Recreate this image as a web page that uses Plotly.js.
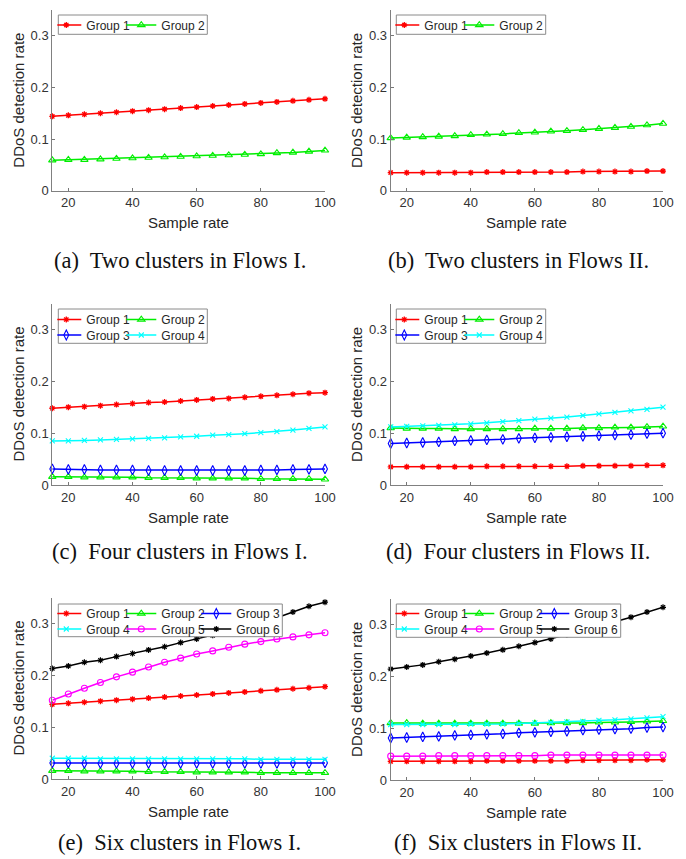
<!DOCTYPE html>
<html>
<head>
<meta charset="utf-8">
<script src="https://cdn.plot.ly/plotly-3.0.1.min.js"></script>
<style>html,body{margin:0;padding:0;background:#fff;}#chart{width:686px;height:859px;}</style>
</head>
<body>
<div id="chart"></div>
<script>
// ---------- data ----------
const sampleRate = [15, 20, 25, 30, 35, 40, 45, 50, 55, 60, 65, 70, 75, 80, 85, 90, 95, 100];
const groupNames = ['Group 1', 'Group 2', 'Group 3', 'Group 4', 'Group 5', 'Group 6'];
const xTicks = [20, 40, 60, 80, 100];
const yTicks = [0, 0.1, 0.2, 0.3];
const yTickText = ['0', '0.1', '0.2', '0.3'];
const captions = ['(a)\u00a0 Two clusters in Flows I.', '(b)\u00a0 Two clusters in Flows II.',
                  '(c)\u00a0 Four clusters in Flows I.', '(d)\u00a0 Four clusters in Flows II.',
                  '(e)\u00a0 Six clusters in Flows I.', '(f)\u00a0 Six clusters in Flows II.'];

// (a) Two clusters, Flows I
const aGroup1 = [0.144, 0.146, 0.148, 0.150, 0.152, 0.154, 0.156, 0.158, 0.160, 0.162, 0.164, 0.166, 0.168, 0.170, 0.172, 0.174, 0.176, 0.178];
const aGroup2 = [0.059, 0.060, 0.060, 0.061, 0.062, 0.063, 0.064, 0.065, 0.066, 0.067, 0.068, 0.069, 0.070, 0.071, 0.073, 0.074, 0.076, 0.078];
// (b) Two clusters, Flows II
const bGroup1 = [0.035, 0.035, 0.035, 0.035, 0.035, 0.035, 0.036, 0.036, 0.036, 0.036, 0.036, 0.036, 0.037, 0.037, 0.037, 0.037, 0.038, 0.038];
const bGroup2 = [0.102, 0.103, 0.104, 0.105, 0.106, 0.108, 0.109, 0.110, 0.112, 0.113, 0.115, 0.116, 0.118, 0.120, 0.122, 0.124, 0.127, 0.130];
// (c) Four clusters, Flows I
const cGroup1 = [0.148, 0.150, 0.151, 0.153, 0.155, 0.157, 0.159, 0.160, 0.162, 0.164, 0.166, 0.167, 0.169, 0.171, 0.173, 0.175, 0.177, 0.178];
const cGroup2 = [0.016, 0.016, 0.015, 0.015, 0.015, 0.015, 0.014, 0.014, 0.014, 0.013, 0.013, 0.013, 0.013, 0.012, 0.012, 0.012, 0.012, 0.011];
const cGroup3 = [0.031, 0.030, 0.030, 0.029, 0.029, 0.029, 0.028, 0.028, 0.028, 0.028, 0.028, 0.028, 0.028, 0.029, 0.029, 0.030, 0.030, 0.031];
const cGroup4 = [0.085, 0.085, 0.086, 0.087, 0.088, 0.089, 0.090, 0.091, 0.093, 0.094, 0.096, 0.097, 0.099, 0.101, 0.103, 0.106, 0.109, 0.112];
// (d) Four clusters, Flows II
const dGroup1 = [0.035, 0.035, 0.035, 0.035, 0.035, 0.035, 0.036, 0.036, 0.036, 0.036, 0.036, 0.036, 0.037, 0.037, 0.037, 0.037, 0.038, 0.038];
const dGroup2 = [0.110, 0.109, 0.109, 0.109, 0.108, 0.108, 0.108, 0.108, 0.108, 0.109, 0.109, 0.109, 0.110, 0.110, 0.111, 0.111, 0.112, 0.113];
const dGroup3 = [0.080, 0.081, 0.082, 0.083, 0.085, 0.086, 0.087, 0.088, 0.090, 0.091, 0.092, 0.093, 0.094, 0.095, 0.096, 0.097, 0.099, 0.100];
const dGroup4 = [0.112, 0.113, 0.114, 0.115, 0.116, 0.118, 0.120, 0.122, 0.124, 0.127, 0.129, 0.131, 0.134, 0.137, 0.140, 0.143, 0.146, 0.150];
// (e) Six clusters, Flows I
const eGroup1 = [0.144, 0.146, 0.148, 0.150, 0.152, 0.154, 0.156, 0.158, 0.160, 0.162, 0.164, 0.166, 0.168, 0.170, 0.172, 0.174, 0.176, 0.178];
const eGroup2 = [0.016, 0.016, 0.015, 0.015, 0.015, 0.015, 0.014, 0.014, 0.014, 0.013, 0.013, 0.013, 0.013, 0.012, 0.012, 0.012, 0.012, 0.012];
const eGroup3 = [0.031, 0.031, 0.030, 0.030, 0.030, 0.030, 0.030, 0.030, 0.030, 0.030, 0.030, 0.030, 0.030, 0.030, 0.030, 0.030, 0.030, 0.031];
const eGroup4 = [0.040, 0.040, 0.040, 0.039, 0.039, 0.039, 0.039, 0.039, 0.039, 0.039, 0.039, 0.039, 0.039, 0.038, 0.038, 0.038, 0.038, 0.038];
const eGroup5 = [0.152, 0.164, 0.175, 0.186, 0.197, 0.206, 0.216, 0.225, 0.233, 0.241, 0.247, 0.254, 0.260, 0.265, 0.270, 0.274, 0.278, 0.282];
const eGroup6 = [0.213, 0.218, 0.225, 0.229, 0.236, 0.242, 0.249, 0.255, 0.263, 0.270, 0.277, 0.285, 0.293, 0.302, 0.311, 0.322, 0.333, 0.341];
// (f) Six clusters, Flows II
const fGroup1 = [0.036, 0.036, 0.036, 0.036, 0.036, 0.036, 0.037, 0.037, 0.037, 0.037, 0.037, 0.037, 0.038, 0.038, 0.038, 0.038, 0.039, 0.039];
const fGroup2 = [0.110, 0.110, 0.109, 0.109, 0.109, 0.109, 0.109, 0.109, 0.109, 0.109, 0.110, 0.110, 0.110, 0.111, 0.111, 0.112, 0.113, 0.114];
const fGroup3 = [0.081, 0.082, 0.083, 0.084, 0.086, 0.087, 0.088, 0.089, 0.091, 0.092, 0.093, 0.094, 0.096, 0.097, 0.098, 0.099, 0.101, 0.102];
const fGroup4 = [0.107, 0.107, 0.107, 0.107, 0.107, 0.108, 0.108, 0.108, 0.109, 0.110, 0.111, 0.112, 0.113, 0.115, 0.116, 0.118, 0.120, 0.122];
const fGroup5 = [0.046, 0.046, 0.046, 0.047, 0.047, 0.047, 0.047, 0.047, 0.047, 0.047, 0.048, 0.048, 0.048, 0.048, 0.048, 0.048, 0.048, 0.048];
const fGroup6 = [0.214, 0.218, 0.222, 0.228, 0.233, 0.239, 0.245, 0.251, 0.258, 0.265, 0.272, 0.280, 0.288, 0.296, 0.305, 0.314, 0.324, 0.333];

// ---------- styles ----------
const W = 686, H = 859;
const groupStyle = [
  {color: '#ff0000', symbol: 'asterisk-open', size: 5, mlw: 1.3},
  {color: '#00ee00', symbol: 'triangle-up-open', size: 6.5, mlw: 1.1},
  {color: '#0000ff', symbol: 'diamond-tall-open', size: 7, mlw: 1.1},
  {color: '#00ffff', symbol: 'x-thin-open', size: 5, mlw: 1.1},
  {color: '#ff00ff', symbol: 'circle-open', size: 6, mlw: 1.1},
  {color: '#000000', symbol: 'asterisk-open', size: 5, mlw: 1.2}
];
// panel geometry in px: [left, right, top, bottom]
const panels = [
  [52.3, 325, 10, 190.7], [390.7, 663, 10, 190.7],
  [52.3, 325, 303.5, 485], [390.7, 663, 303.5, 485],
  [52.3, 325, 597.5, 779], [390.7, 663, 598.5, 780]
];
const panelData = [
  [aGroup1, aGroup2],
  [bGroup1, bGroup2],
  [cGroup1, cGroup2, cGroup3, cGroup4],
  [dGroup1, dGroup2, dGroup3, dGroup4],
  [eGroup1, eGroup2, eGroup3, eGroup4, eGroup5, eGroup6],
  [fGroup1, fGroup2, fGroup3, fGroup4, fGroup5, fGroup6]
];
// legend boxes px: [left, right, top, bottom], row centers, items per row
const legendBoxes = [
  {box: [58.3, 207.3, 15, 34.3], rows: [25], per: 2},
  {box: [396.3, 545.7, 15, 34.3], rows: [25], per: 2},
  {box: [58.3, 207.3, 309, 343.3], rows: [319.5, 335], per: 2},
  {box: [396.3, 545.7, 309, 343.3], rows: [319.5, 335], per: 2},
  {box: [58.3, 282.3, 604, 636.7], rows: [613.5, 629], per: 3},
  {box: [396.3, 620.7, 604, 637.3], rows: [613.5, 629], per: 3}
];

const px = v => v / W;
const py = v => 1 - v / H;
const axisFont = {family: 'Liberation Sans, Arial, sans-serif', size: 13, color: '#333333'};

const traces = [];
const layout = {
  width: W, height: H,
  margin: {l: 0, r: 0, t: 0, b: 0, pad: 0},
  paper_bgcolor: '#ffffff', plot_bgcolor: '#ffffff',
  showlegend: true,
  shapes: [], annotations: []
};

let legendCount = 0;
panels.forEach((p, i) => {
  const n = i + 1;
  const xa = 'xaxis' + (n === 1 ? '' : n), ya = 'yaxis' + (n === 1 ? '' : n);
  const xr = 'x' + (n === 1 ? '' : n), yr = 'y' + (n === 1 ? '' : n);
  layout[xa] = {
    domain: [px(p[0]), px(p[1])], anchor: yr, range: [15, 100],
    tickvals: xTicks, ticks: 'inside', ticklen: 3, tickcolor: '#777',
    showline: true, linecolor: '#808080', linewidth: 1, mirror: false,
    showgrid: false, zeroline: false, tickfont: axisFont, fixedrange: true
  };
  layout[ya] = {
    domain: [py(p[3]), py(p[2])], anchor: xr, range: [0, 0.35],
    tickvals: yTicks, ticktext: yTickText, ticks: 'inside', ticklen: 3, tickcolor: '#777',
    showline: true, linecolor: '#808080', linewidth: 1, mirror: false,
    showgrid: false, zeroline: false, tickfont: axisFont, fixedrange: true
  };
  // legends
  const lb = legendBoxes[i];
  const legendIds = lb.rows.map(rowY => {
    legendCount++;
    const id = 'legend' + (legendCount === 1 ? '' : legendCount);
    layout[id] = {
      orientation: 'h', x: px(lb.box[0] - 1), y: py(rowY), xanchor: 'left', yanchor: 'middle',
      bgcolor: 'rgba(0,0,0,0)', borderwidth: 0, entrywidth: 41, indentation: -11,
      itemwidth: 30, tracegroupgap: 0, traceorder: 'normal',
      font: {family: 'Liberation Sans, Arial, sans-serif', size: 12, color: '#262626'}
    };
    return id;
  });
  layout.shapes.push({
    type: 'rect', xref: 'paper', yref: 'paper', layer: 'above',
    x0: px(lb.box[0]), x1: px(lb.box[1]), y0: py(lb.box[3]), y1: py(lb.box[2]),
    fillcolor: '#ffffff', line: {color: '#8a8a8a', width: 1}
  });
  panelData[i].forEach((ys, g) => {
    const s = groupStyle[g];
    traces.push({
      type: 'scatter', mode: 'lines+markers', x: sampleRate, y: ys,
      xaxis: xr, yaxis: yr, name: groupNames[g], cliponaxis: false,
      legend: legendIds[Math.floor(g / lb.per)],
      line: {color: s.color, width: 1.5},
      marker: {symbol: s.symbol, size: s.size, color: s.color, line: {color: s.color, width: s.mlw}},
      hoverinfo: 'x+y'
    });
  });
  // axis titles
  const cx = (p[0] + p[1]) / 2, cy = (p[2] + p[3]) / 2;
  layout.annotations.push({
    text: 'Sample rate', xref: 'paper', yref: 'paper', x: px(cx), y: py(p[3] + 32),
    xanchor: 'center', yanchor: 'middle', showarrow: false,
    font: {family: 'Liberation Sans, Arial, sans-serif', size: 15, color: '#262626'}
  });
  layout.annotations.push({
    text: 'DDoS detection rate', xref: 'paper', yref: 'paper', x: px(p[0] - 34), y: py(cy),
    xanchor: 'center', yanchor: 'middle', textangle: -90, showarrow: false,
    font: {family: 'Liberation Sans, Arial, sans-serif', size: 15, color: '#262626'}
  });
});

// captions
const capPos = [[180, 260], [518, 260], [180, 551], [518, 551], [180, 842], [518, 842]];
captions.forEach((c, i) => {
  layout.annotations.push({
    text: c, xref: 'paper', yref: 'paper', x: px(capPos[i][0]), y: py(capPos[i][1]),
    xanchor: 'center', yanchor: 'middle', showarrow: false,
    font: {family: 'Liberation Serif, Times New Roman, serif', size: 22.5, color: '#111111'}
  });
});

Plotly.newPlot('chart', traces, layout, {displayModeBar: false, staticPlot: true});
</script>
</body>
</html>
